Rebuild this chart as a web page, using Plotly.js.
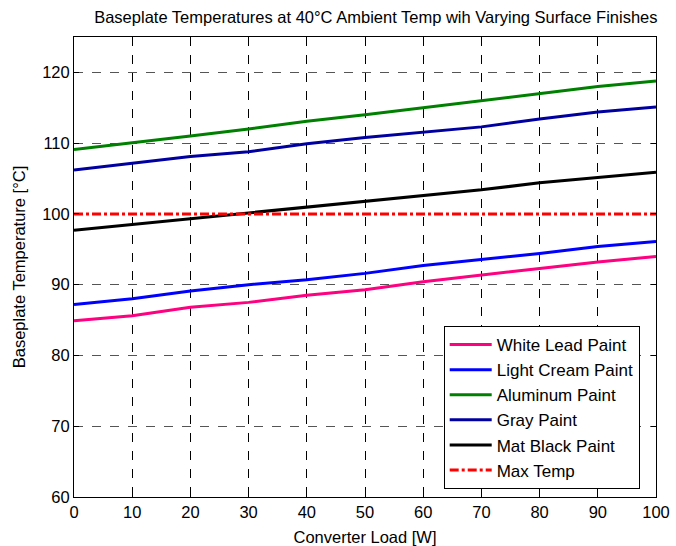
<!DOCTYPE html>
<html>
<head>
<meta charset="utf-8">
<script src="https://cdn.plot.ly/plotly-3.0.1.min.js"></script>
<style>html,body{margin:0;padding:0;background:#fff;}</style>
</head>
<body>
<div id="chart" style="width:676px;height:546px;"></div>
<script>
const load = [0, 10, 20, 30, 40, 50, 60, 70, 80, 90, 100];
const whiteLead = [84.9, 85.6, 86.8, 87.5, 88.5, 89.3, 90.4, 91.4, 92.3, 93.2, 94.0];
const lightCream = [87.2, 88.0, 89.1, 90.0, 90.7, 91.6, 92.7, 93.5, 94.4, 95.4, 96.1];
const aluminum = [109.1, 110.0, 111.0, 112.0, 113.1, 114.0, 115.0, 116.0, 117.0, 118.0, 118.8];
const grayPaint = [106.2, 107.2, 108.1, 108.8, 109.9, 110.8, 111.6, 112.3, 113.4, 114.4, 115.1];
const matBlack = [97.7, 98.5, 99.4, 100.1, 100.9, 101.8, 102.5, 103.4, 104.4, 105.2, 105.9];
const maxTemp = [100, 100, 100, 100, 100, 100, 100, 100, 100, 100, 100];
const xTicks = [0, 10, 20, 30, 40, 50, 60, 70, 80, 90, 100];
const yTicks = [60, 70, 80, 90, 100, 110, 120];

const series = [
  {name: 'White Lead Paint', y: whiteLead, color: '#FF0080', dash: 'solid'},
  {name: 'Light Cream Paint', y: lightCream, color: '#0000FF', dash: 'solid'},
  {name: 'Aluminum Paint', y: aluminum, color: '#008000', dash: 'solid'},
  {name: 'Gray Paint', y: grayPaint, color: '#0000A0', dash: 'solid'},
  {name: 'Mat Black Paint', y: matBlack, color: '#000000', dash: 'solid'},
  {name: 'Max Temp', y: maxTemp, color: '#FF0000', dash: 'dashdot'}
];

const traces = series.map(s => ({
  x: load, y: s.y, name: s.name, type: 'scatter', mode: 'lines',
  line: {color: s.color, width: 3, dash: s.dash}
}));

const ff = 'Arial, "Liberation Sans", sans-serif';
const font = {family: ff, size: 16.5, color: '#000'};

const layout = {
  width: 676, height: 546,
  margin: {l: 74, r: 20, t: 37, b: 49},
  paper_bgcolor: '#fff', plot_bgcolor: '#fff',
  font: font,
  title: {text: 'Baseplate Temperatures at 40°C Ambient Temp wih Varying Surface Finishes',
          font: {family: ff, size: 16.5, color: '#000'}, x: 0.556, xanchor: 'center', y: 0.968, yanchor: 'middle'},
  xaxis: {
    range: [0, 100], tickvals: xTicks, ticktext: xTicks.map(String),
    showline: true, linecolor: '#000', linewidth: 1, mirror: 'ticks',
    ticks: 'inside', ticklen: 5, tickcolor: '#000',
    showgrid: true, gridcolor: '#000', griddash: 'dash', gridwidth: 1,
    zeroline: false,
    title: {text: 'Converter Load [W]', font: font, standoff: 11},
    tickfont: font
  },
  yaxis: {
    range: [60, 125], tickvals: yTicks, ticktext: yTicks.map(String),
    showline: true, linecolor: '#000', linewidth: 1, mirror: 'ticks',
    ticks: 'inside', ticklen: 5, tickcolor: '#000',
    showgrid: true, gridcolor: '#555', griddash: 'dash', gridwidth: 1,
    zeroline: false,
    title: {text: 'Baseplate Temperature [°C]', font: font, standoff: 12},
    tickfont: font
  },
  showlegend: true,
  legend: {
    x: 0.972, y: 0.0174, xanchor: 'right', yanchor: 'bottom',
    bgcolor: '#fff', bordercolor: '#000', borderwidth: 1,
    font: {family: ff, size: 17, color: '#000'}, tracegroupgap: 0, itemwidth: 42
  }
};

Plotly.newPlot('chart', traces, layout, {staticPlot: true, displayModeBar: false});
</script>
</body>
</html>
